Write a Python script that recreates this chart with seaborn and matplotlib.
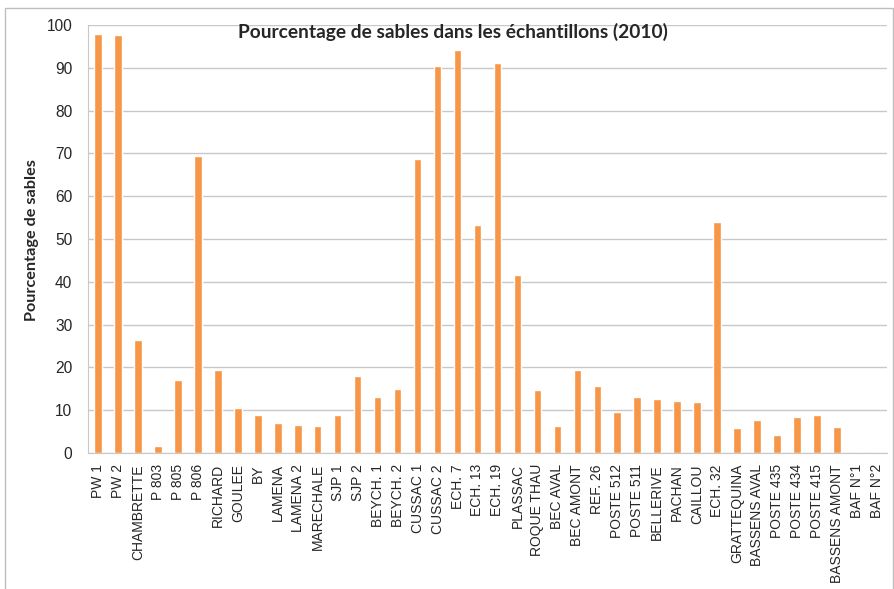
import numpy as np
import pandas as pd
import seaborn as sns
import matplotlib.pyplot as plt
from matplotlib.patches import Rectangle

stations = ["PW 1", "PW 2", "CHAMBRETTE", "P 803", "P 805", "P 806", "RICHARD",
            "GOULEE", "BY", "LAMENA", "LAMENA 2", "MARECHALE", "SJP 1", "SJP 2",
            "BEYCH. 1", "BEYCH. 2", "CUSSAC 1", "CUSSAC 2", "ECH. 7", "ECH. 13",
            "ECH. 19", "PLASSAC", "ROQUE THAU", "BEC AVAL", "BEC AMONT", "REF. 26",
            "POSTE 512", "POSTE 511", "BELLERIVE", "PACHAN", "CAILLOU", "ECH. 32",
            "GRATTEQUINA", "BASSENS AVAL", "POSTE 435", "POSTE 434", "POSTE 415",
            "BASSENS AMONT", "BAF N°1", "BAF N°2"]
sables = [98.0, 97.7, 26.4, 1.6, 17.0, 69.4, 19.4,
          10.6, 8.8, 6.9, 6.5, 6.2, 8.8, 18.1,
          13.2, 15.0, 68.6, 90.5, 94.2, 53.3,
          91.1, 41.6, 14.7, 6.3, 19.5, 15.7,
          9.6, 13.2, 12.5, 12.2, 11.8, 54.0,
          5.9, 7.8, 4.1, 8.5, 8.8,
          6.1, 0.0, 0.0]

df = pd.DataFrame({"station": stations, "sables": sables})

sns.set_style("white")
plt.rcParams["font.family"] = ["Liberation Sans", "DejaVu Sans"]

fig = plt.figure(figsize=(8.95, 5.89), dpi=100)
ax = fig.add_axes([0.0983, 0.2309, 0.8927, 0.7267])

sns.barplot(data=df, x="station", y="sables", color="#F79646", width=0.38,
            saturation=1, ax=ax)

ax.set_ylim(0, 100)
ax.set_xlim(-0.5, len(stations) - 0.5)
ax.set_yticks(np.arange(0, 101, 10))
ax.yaxis.grid(True, color="#C8C8C8", linewidth=1)
ax.set_axisbelow(True)
ax.tick_params(axis="y", labelsize=11.2, length=4.3, color="#C8C8C8", pad=7)
ax.tick_params(axis="x", which="major", labelsize=10, length=0, pad=8)
ax.set_xticks(np.arange(-0.5, len(stations), 1), minor=True)
ax.tick_params(axis="x", which="minor", length=4, color="#C8C8C8")
for lab in ax.get_xticklabels():
    lab.set_rotation(90)

for side in ["top", "right"]:
    ax.spines[side].set_visible(False)
for side in ["left", "bottom"]:
    ax.spines[side].set_color("#C8C8C8")

ax.set_xlabel("")
ax.set_ylabel("")
fig.text(0.0358, 0.5925, "Pourcentage de sables", rotation=90, ha="center",
         va="center", fontsize=11.7, fontweight="bold", family=["Lato", "DejaVu Sans"])
fig.text(0.506, 0.9457, "Pourcentage de sables dans les échantillons (2010)",
         ha="center", va="center", fontsize=13.8, fontweight="bold",
         family=["Lato", "DejaVu Sans"])

fig.patches.append(Rectangle((0.006, -0.01), 0.992, 0.996, transform=fig.transFigure,
                             fill=False, edgecolor="#BEBEBE", linewidth=1))

fig.savefig("out.png", dpi=100)
